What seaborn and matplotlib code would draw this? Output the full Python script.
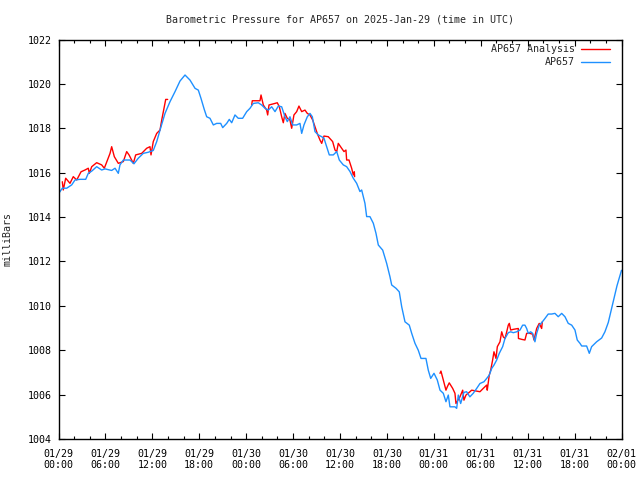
import numpy as np
import pandas as pd
import matplotlib
matplotlib.use("Agg")
import matplotlib.pyplot as plt
import matplotlib.dates as mdates
import seaborn as sns

title = "Barometric Pressure for AP657 on 2025-Jan-29 (time in UTC)"
ylabel = "milliBars"
start = pd.Timestamp("2025-01-29 00:00")
end = pd.Timestamp("2025-02-01 00:00")

# AP657 observed series: hours since start, pressure (mb)
obs_hours = [0.0, 0.49, 1.05, 1.69, 2.11, 2.75, 3.48, 3.81, 4.25, 4.88, 5.52, 5.95, 6.80, 7.23, 7.65,
             7.86, 8.29, 9.14, 9.65, 10.20, 10.84, 11.48, 12.12, 12.56, 13.11, 13.62, 14.26, 14.90,
             15.54, 16.18, 16.82, 17.46, 17.88, 18.22, 18.64, 18.95, 19.37, 19.80, 20.23, 20.74,
             21.00, 21.51, 21.84, 22.15, 22.57, 22.99, 23.55, 24.07, 24.49, 24.91, 25.55, 25.98,
             26.41, 26.83, 27.26, 27.69, 28.11, 28.54, 28.96, 29.26, 29.60, 29.95, 30.46, 30.88,
             31.10, 31.39, 31.82, 32.16, 32.46, 32.80, 33.22, 33.66, 33.95, 34.30, 34.63, 35.14,
             35.58, 35.91, 36.42, 36.85, 37.28, 37.70, 38.13, 38.55, 38.77, 39.19, 39.41, 39.83,
             40.26, 40.60, 40.90, 41.46, 41.97, 42.39, 42.61, 43.16, 43.58, 43.89, 44.31, 44.86,
             45.17, 45.59, 46.01, 46.36, 46.99, 47.29, 47.60, 48.02, 48.44, 48.79, 49.21, 49.55,
             49.85, 50.06, 50.70, 50.92, 51.13, 51.43, 51.85, 52.19, 52.61, 53.04, 53.48, 53.90,
             54.41, 54.76, 55.09, 55.40, 55.69, 56.04, 56.37, 56.80, 57.10, 57.52, 57.83, 58.16,
             58.59, 59.02, 59.36, 59.65, 59.87, 60.08, 60.38, 60.64, 60.93, 61.15, 61.48, 61.79,
             62.21, 62.63, 63.07, 63.49, 63.91, 64.35, 64.77, 65.19, 65.63, 66.05, 66.34, 66.69,
             66.91, 67.54, 67.88, 68.18, 68.82, 69.46, 69.88, 70.31, 70.95, 71.42, 72.00]
obs_values = [1015.05, 1015.30, 1015.30, 1015.45, 1015.67, 1015.70, 1015.70, 1015.97, 1016.07, 1016.27,
              1016.12, 1016.17, 1016.10, 1016.20, 1015.97, 1016.35, 1016.57, 1016.57, 1016.40, 1016.65,
              1016.87, 1016.92, 1017.00, 1017.40, 1018.07, 1018.67, 1019.20, 1019.65, 1020.13, 1020.40,
              1020.17, 1019.80, 1019.72, 1019.35, 1018.85, 1018.52, 1018.45, 1018.15, 1018.22, 1018.22,
              1018.03, 1018.22, 1018.40, 1018.25, 1018.60, 1018.45, 1018.45, 1018.75, 1018.90, 1019.12,
              1019.15, 1019.05, 1018.90, 1018.82, 1018.97, 1018.75, 1019.00, 1018.97, 1018.52, 1018.30,
              1018.52, 1018.15, 1018.15, 1018.22, 1017.77, 1018.15, 1018.52, 1018.67, 1018.52, 1017.85,
              1017.70, 1017.62, 1017.55, 1017.17, 1016.80, 1016.80, 1016.95, 1016.57, 1016.35, 1016.27,
              1016.05, 1015.75, 1015.52, 1015.15, 1015.22, 1014.62, 1014.02, 1014.02, 1013.72, 1013.27,
              1012.74, 1012.51, 1011.91, 1011.31, 1010.94, 1010.79, 1010.63, 1009.96, 1009.28, 1009.13,
              1008.76, 1008.31, 1008.00, 1007.63, 1007.63, 1007.10, 1006.73, 1006.96, 1006.66, 1006.20,
              1006.06, 1005.68, 1005.98, 1005.45, 1005.45, 1005.38, 1005.98, 1005.60, 1006.10, 1006.13,
              1005.90, 1006.06, 1006.28, 1006.50, 1006.58, 1006.73, 1006.88, 1007.18, 1007.33, 1007.56,
              1007.86, 1008.16, 1008.53, 1008.79, 1008.83, 1008.79, 1008.83, 1008.91, 1009.13, 1009.13,
              1008.98, 1008.76, 1008.83, 1008.76, 1008.38, 1008.76, 1009.13, 1009.24, 1009.43, 1009.63,
              1009.63, 1009.66, 1009.51, 1009.66, 1009.51, 1009.21, 1009.13, 1008.91, 1008.46, 1008.31,
              1008.19, 1008.19, 1007.86, 1008.16, 1008.38, 1008.55, 1008.83, 1009.25, 1010.20, 1010.90,
              1011.60]

# AP657 Analysis series, three separate segments
ana1_hours = [0.49, 0.61, 0.92, 1.47, 1.89, 2.33, 2.88, 3.39, 3.81, 3.94, 4.25, 4.88, 5.52, 5.86, 6.59,
              6.80, 7.14, 7.65, 8.29, 8.72, 9.02, 9.57, 9.87, 10.64, 11.28, 11.70, 11.83, 12.12, 12.56,
              12.98, 13.20, 13.53, 13.71, 13.96]
ana1_values = [1015.59, 1015.22, 1015.75, 1015.52, 1015.82, 1015.67, 1016.04, 1016.12, 1016.20, 1015.97,
               1016.27, 1016.45, 1016.35, 1016.20, 1016.87, 1017.17, 1016.72, 1016.42, 1016.50, 1016.95,
               1016.80, 1016.42, 1016.80, 1016.87, 1017.10, 1017.17, 1016.80, 1017.40, 1017.77, 1017.92,
               1018.37, 1018.97, 1019.30, 1019.30]
ana2_hours = [24.71, 24.78, 25.35, 25.77, 25.90, 26.19, 26.62, 26.75, 26.92, 27.47, 27.98, 28.24, 28.54,
              28.75, 28.96, 29.26, 29.60, 29.82, 30.11, 30.46, 30.75, 31.10, 31.52, 31.82, 32.16, 32.51,
              32.80, 33.09, 33.44, 33.66, 33.95, 34.50, 35.06, 35.36, 35.58, 35.78, 36.21, 36.51, 36.76,
              36.85, 37.15, 37.49, 37.70, 37.83, 37.87]
ana2_values = [1019.05, 1019.24, 1019.24, 1019.24, 1019.50, 1019.05, 1018.82, 1018.60, 1019.05, 1019.10,
               1019.15, 1018.97, 1018.52, 1018.25, 1018.67, 1018.45, 1018.37, 1018.00, 1018.60, 1018.75,
               1019.00, 1018.75, 1018.82, 1018.67, 1018.60, 1018.37, 1018.07, 1017.77, 1017.47, 1017.32,
               1017.65, 1017.62, 1017.40, 1017.02, 1016.95, 1017.32, 1017.10, 1016.95, 1017.02, 1016.57,
               1016.57, 1016.20, 1015.90, 1016.04, 1015.82]
ana3_hours = [48.79, 48.91, 49.21, 49.55, 49.72, 49.97, 50.41, 50.70, 50.83, 51.34, 51.69, 51.85, 52.11,
              52.62, 52.84, 53.90, 54.32, 54.76, 54.83, 55.09, 55.27, 55.52, 55.69, 55.95, 56.12, 56.46,
              56.68, 56.88, 57.10, 57.32, 57.52, 57.65, 57.83, 58.16, 58.80, 58.82, 59.23, 59.65, 59.87,
              60.29, 60.64, 60.81, 61.15, 61.48, 61.79, 61.87]
ana3_values = [1006.96, 1007.06, 1006.66, 1006.20, 1006.35, 1006.53, 1006.28, 1006.06, 1005.60, 1005.90,
               1006.20, 1005.75, 1005.98, 1006.13, 1006.20, 1006.13, 1006.28, 1006.43, 1006.20, 1006.88,
               1007.10, 1007.56, 1007.93, 1007.63, 1008.16, 1008.38, 1008.83, 1008.60, 1008.53, 1008.83,
               1009.13, 1009.21, 1008.91, 1008.94, 1008.98, 1008.53, 1008.49, 1008.46, 1008.76, 1008.76,
               1008.72, 1008.46, 1008.98, 1009.21, 1008.98, 1009.28]

obs = pd.DataFrame({"time": start + pd.to_timedelta(obs_hours, unit="h"), "pressure": obs_values})
ana_frames = []
for seg, (h, v) in enumerate([(ana1_hours, ana1_values), (ana2_hours, ana2_values), (ana3_hours, ana3_values)]):
    ana_frames.append(pd.DataFrame({"time": start + pd.to_timedelta(h, unit="h"), "pressure": v, "seg": seg}))
ana = pd.concat(ana_frames, ignore_index=True)

sns.set_style("ticks")
plt.rcParams["font.family"] = ["DejaVu Sans Mono"]
plt.rcParams["xtick.direction"] = "in"
plt.rcParams["ytick.direction"] = "in"

fig = plt.figure(figsize=(6.4, 4.8), dpi=100)
ax = fig.add_axes([58.5 / 640, 1 - 439 / 480, 563 / 640, 399.5 / 480])

sns.lineplot(data=ana, x="time", y="pressure", units="seg", estimator=None, color="#ff0000",
             linewidth=1.0, ax=ax, label="AP657 Analysis")
sns.lineplot(data=obs, x="time", y="pressure", color="#1e90ff", linewidth=1.0, ax=ax, label="AP657")

ax.set_xlim(start, end)
ax.set_ylim(1004, 1022)
ax.set_yticks(np.arange(1004, 1023, 2))
ax.xaxis.set_major_locator(mdates.HourLocator(byhour=range(0, 24, 6)))
ax.xaxis.set_minor_locator(mdates.HourLocator(byhour=range(0, 24, 2)))
ax.xaxis.set_major_formatter(mdates.DateFormatter("%m/%d\n%H:%M"))

fs = 7.2
ax.tick_params(axis="both", which="both", direction="in", top=True, right=True, colors="black",
               labelsize=fs, width=0.8)
ax.tick_params(axis="x", which="major", length=4.5, pad=7)
ax.tick_params(axis="x", which="minor", length=2.5)
ax.tick_params(axis="y", which="major", length=4.5, pad=4.5)
for s in ax.spines.values():
    s.set_color("black")
    s.set_linewidth(1.0)

ax.set_xlabel("")
ax.set_ylabel(ylabel, fontsize=fs)
ax.yaxis.set_label_coords(-0.081, 0.5)
ax.set_title(title, fontsize=fs, pad=12)

handles, labels = ax.get_legend_handles_labels()
seen = {}
for h, l in zip(handles, labels):
    if l not in seen:
        seen[l] = h
ax.legend(list(seen.values()), list(seen.keys()), loc="upper right", markerfirst=False, frameon=False,
          fontsize=fs, handlelength=2.9, handletextpad=0.6, labelspacing=0.3, borderpad=0,
          borderaxespad=0, bbox_to_anchor=(1 - 11.5 / 563, 1 - 4.5 / 399.5))

fig.savefig("out.png", dpi=100)
